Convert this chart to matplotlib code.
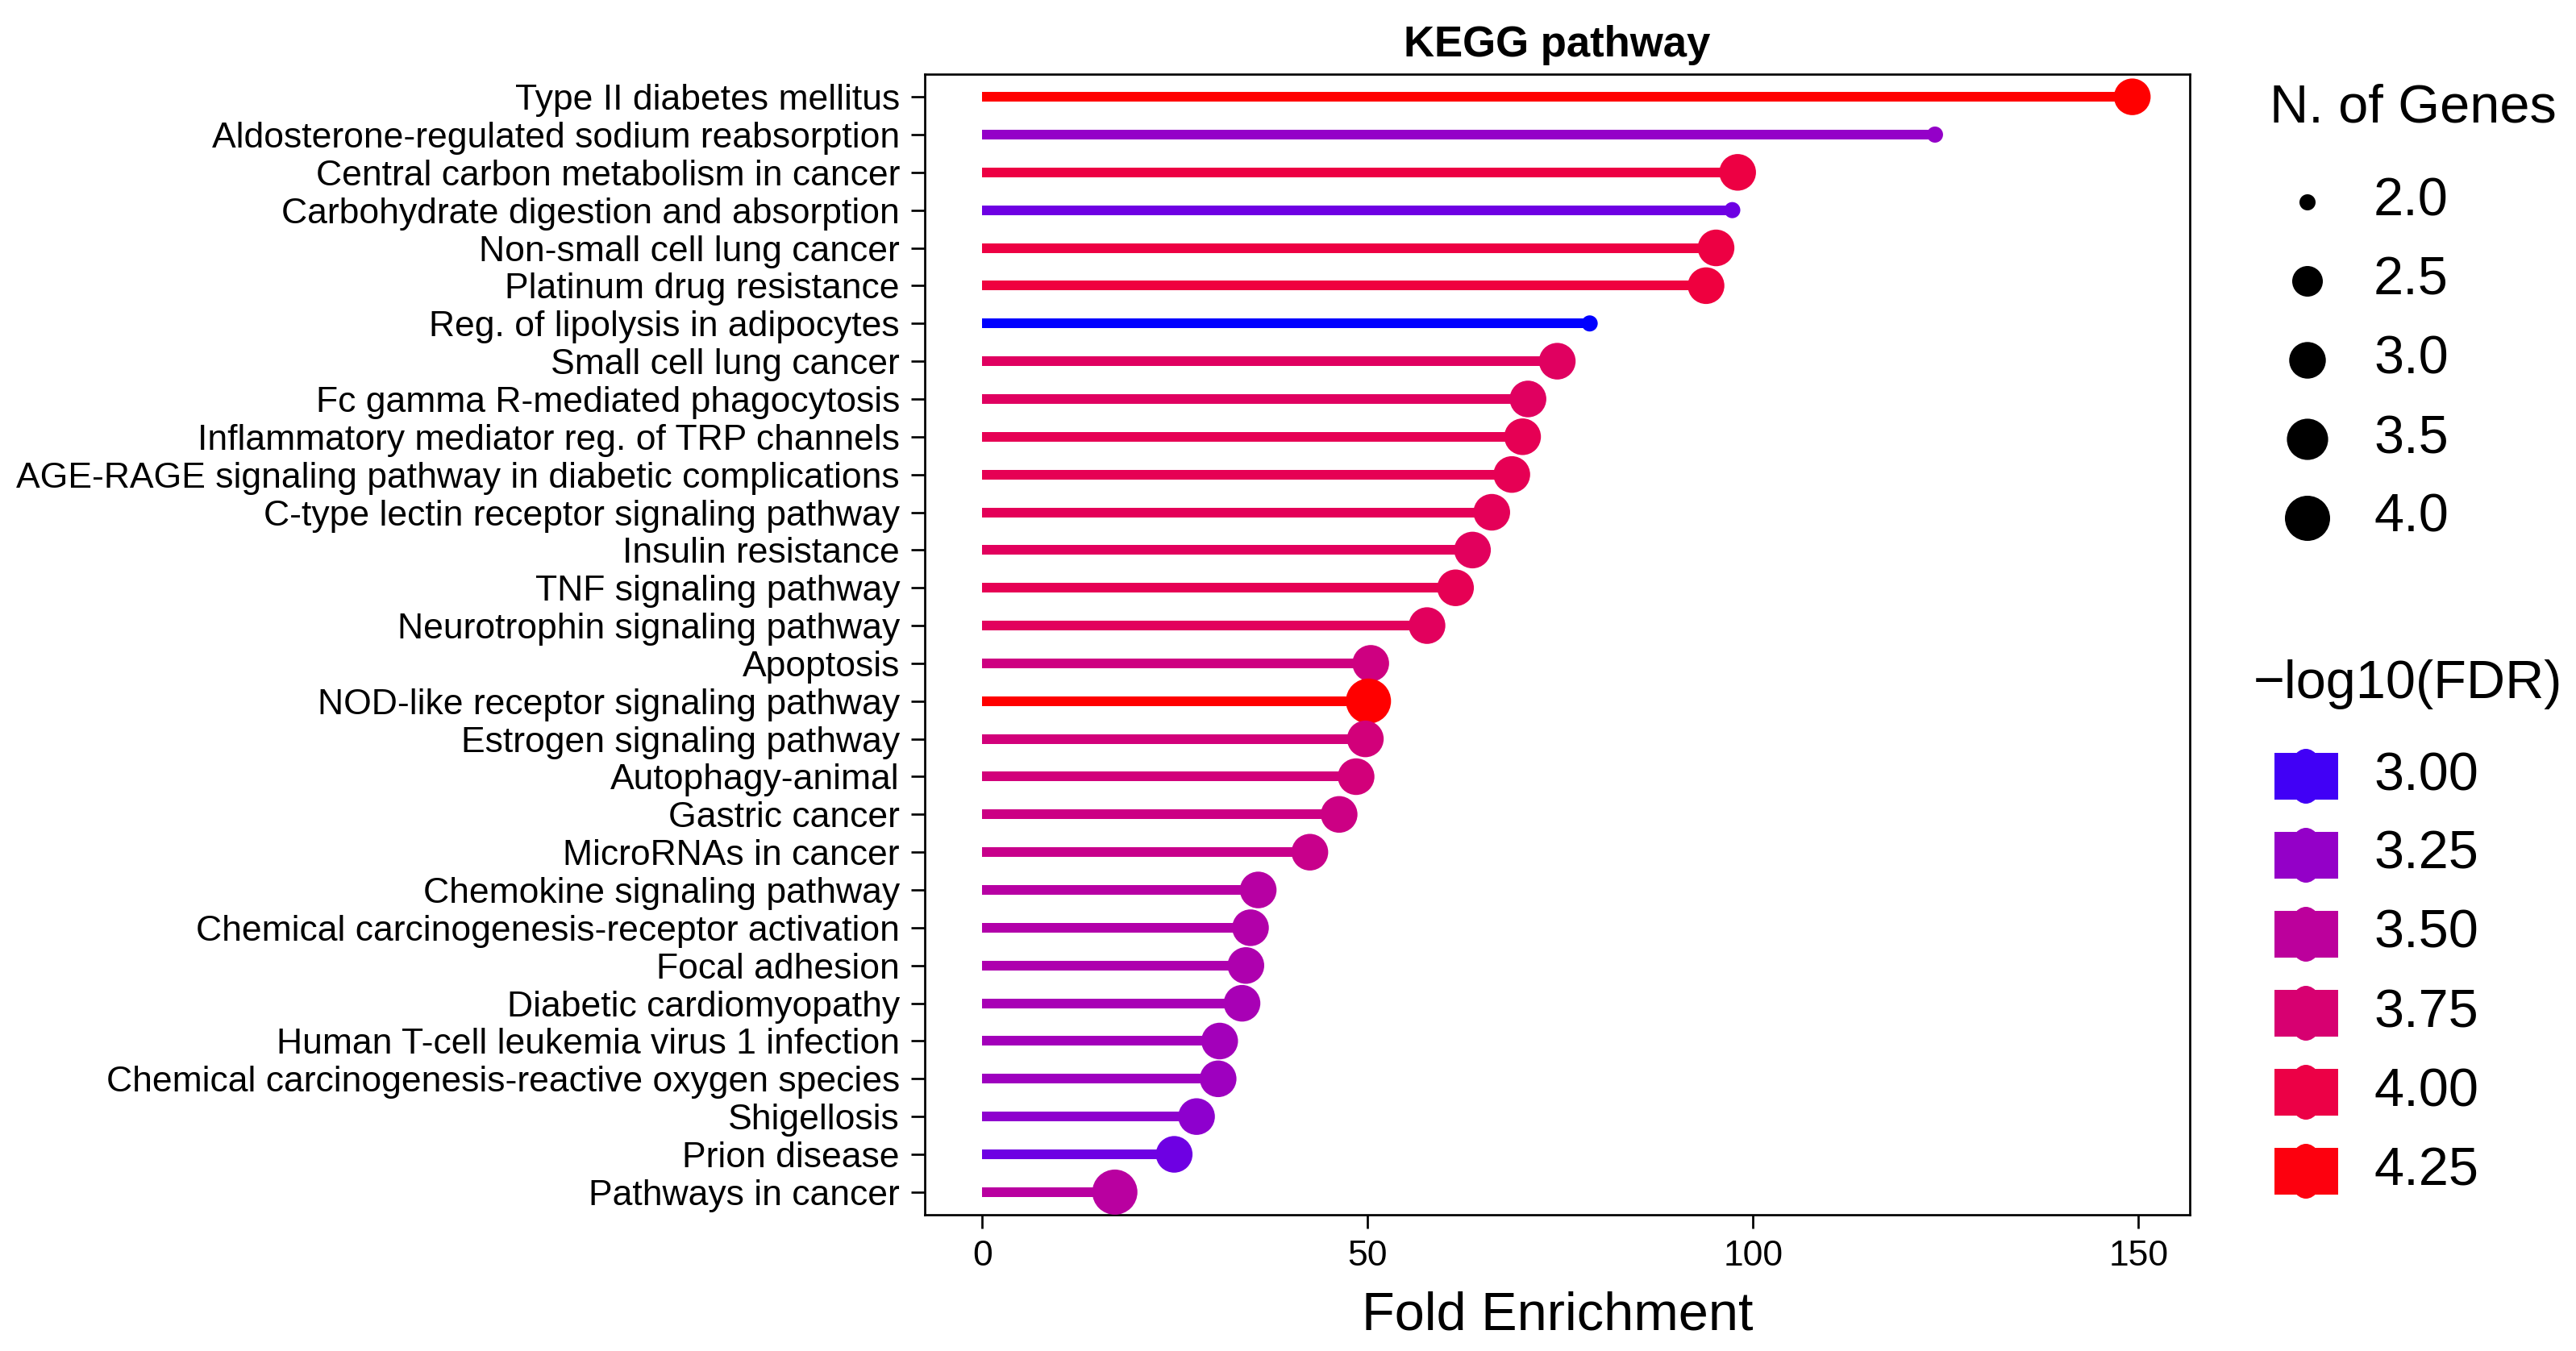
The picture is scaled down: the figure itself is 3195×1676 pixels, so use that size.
import numpy as np
import matplotlib
matplotlib.use("Agg")
import matplotlib.pyplot as plt
from matplotlib.patches import Rectangle, Ellipse

# ---------------- data ----------------
pathways = [
    "Type II diabetes mellitus",
    "Aldosterone-regulated sodium reabsorption",
    "Central carbon metabolism in cancer",
    "Carbohydrate digestion and absorption",
    "Non-small cell lung cancer",
    "Platinum drug resistance",
    "Reg. of lipolysis in adipocytes",
    "Small cell lung cancer",
    "Fc gamma R-mediated phagocytosis",
    "Inflammatory mediator reg. of TRP channels",
    "AGE-RAGE signaling pathway in diabetic complications",
    "C-type lectin receptor signaling pathway",
    "Insulin resistance",
    "TNF signaling pathway",
    "Neurotrophin signaling pathway",
    "Apoptosis",
    "NOD-like receptor signaling pathway",
    "Estrogen signaling pathway",
    "Autophagy-animal",
    "Gastric cancer",
    "MicroRNAs in cancer",
    "Chemokine signaling pathway",
    "Chemical carcinogenesis-receptor activation",
    "Focal adhesion",
    "Diabetic cardiomyopathy",
    "Human T-cell leukemia virus 1 infection",
    "Chemical carcinogenesis-reactive oxygen species",
    "Shigellosis",
    "Prion disease",
    "Pathways in cancer",
]
fold_enrichment = [149.2, 123.6, 98.0, 97.3, 95.2, 93.9, 78.8, 74.6, 70.8, 70.1,
                   68.7, 66.1, 63.6, 61.4, 57.7, 50.4, 50.1, 49.7, 48.5, 46.3,
                   42.5, 35.8, 34.8, 34.2, 33.7, 30.8, 30.6, 27.8, 24.9, 17.2]
n_genes = [3, 2, 3, 2, 3, 3, 2, 3, 3, 3,
           3, 3, 3, 3, 3, 3, 4, 3, 3, 3,
           3, 3, 3, 3, 3, 3, 3, 3, 3, 4]
neg_log10_fdr = [4.28, 3.25, 4.02, 3.10, 4.02, 4.04, 2.95, 3.85, 3.85, 3.92,
                 3.92, 3.90, 3.87, 3.92, 3.87, 3.66, 4.28, 3.70, 3.70, 3.64,
                 3.60, 3.46, 3.43, 3.40, 3.36, 3.33, 3.30, 3.22, 3.10, 3.48]
size_breaks = [2.0, 2.5, 3.0, 3.5, 4.0]
color_breaks = [3.00, 3.25, 3.50, 3.75, 4.00, 4.25]
title = "KEGG pathway"
xlabel = "Fold Enrichment"
x_ticks = [0, 50, 100, 150]

# ---------------- colour scale (blue -> red in Lab, like ggplot) ----------------
_M = np.array([[0.4124564, 0.3575761, 0.1804375],
               [0.2126729, 0.7151522, 0.0721750],
               [0.0193339, 0.1191920, 0.9503041]])
_W = _M @ np.ones(3)
_d = 6 / 29


def _lin(c):
    c = np.asarray(c, float)
    return np.where(c <= 0.04045, c / 12.92, ((c + 0.055) / 1.055) ** 2.4)


def _gam(c):
    c = np.clip(c, 0, 1)
    return np.where(c <= 0.0031308, 12.92 * c, 1.055 * np.power(c, 1 / 2.4) - 0.055)


def _f(t):
    return np.where(t > _d ** 3, np.cbrt(t), t / (3 * _d * _d) + 4 / 29)


def _finv(t):
    return np.where(t > _d, t ** 3, 3 * _d * _d * (t - 4 / 29))


def rgb2lab(rgb):
    xyz = (_M @ _lin(rgb)) / _W
    fx, fy, fz = _f(xyz)
    return np.array([116 * fy - 16, 500 * (fx - fy), 200 * (fy - fz)])


def lab2rgb(lab):
    L, a, b = lab
    fy = (L + 16) / 116
    fx = fy + a / 500
    fz = fy - b / 200
    xyz = _W * _finv(np.array([fx, fy, fz]))
    return tuple(_gam(np.linalg.solve(_M, xyz)))


LAB_LOW = rgb2lab([0, 0, 1])
LAB_HIGH = rgb2lab([1, 0, 0])
vmin, vmax = min(neg_log10_fdr), max(neg_log10_fdr)


def colour(v):
    t = np.clip((v - vmin) / (vmax - vmin), 0, 1)
    return lab2rgb(LAB_LOW + t * (LAB_HIGH - LAB_LOW))


def diam_px(n):
    # area-type size scale
    return 20 + 36 * np.sqrt((n - 2.0) / 2.0)


# ---------------- figure ----------------
W, H, DPI = 3195, 1676, 200
plt.rcParams["font.family"] = ["Liberation Sans", "DejaVu Sans"]
fig = plt.figure(figsize=(W / DPI, H / DPI), dpi=DPI)
px2pt = 72 / DPI

ax_l, ax_r, ax_t, ax_b = 1147, 2716, 92, 1507
ax = fig.add_axes([ax_l / W, 1 - ax_b / H, (ax_r - ax_l) / W, (ax_b - ax_t) / H])

y = np.arange(len(pathways))
cols = [colour(v) for v in neg_log10_fdr]
ax.hlines(y, 0, fold_enrichment, colors=cols, linewidth=12 * px2pt, capstyle="butt", zorder=2)
sizes = [(diam_px(n) * px2pt) ** 2 for n in n_genes]
ax.scatter(fold_enrichment, y, s=sizes, c=cols, linewidths=0, zorder=3)

xmax = max(fold_enrichment)
ax.set_xlim(-0.05 * xmax, 1.05 * xmax)
ax.set_ylim(len(pathways) - 0.4, -0.6)
ax.set_yticks(y, pathways, fontsize=16)
ax.set_xticks(x_ticks, [str(t) for t in x_ticks], fontsize=16)
ax.tick_params(axis="both", length=17 * px2pt, width=2.7 * px2pt, color="black", pad=14 * px2pt)
for sp in ax.spines.values():
    sp.set_linewidth(2.7 * px2pt)
    sp.set_color("black")
ax.set_xlabel(xlabel, fontsize=24, labelpad=8)
ax.set_title(title, fontsize=19, fontweight="bold", pad=8)

# ---------------- legends (drawn manually, ggplot style) ----------------
def fx(px):
    return px / W


def fy(py):
    return 1 - py / H


# size legend
fig.text(fx(2815), fy(135), "N. of Genes", fontsize=24, va="center", ha="left")
for i, b in enumerate(size_breaks):
    yc = 251 + i * 98
    d = diam_px(b)
    fig.add_artist(Ellipse((fx(2862), fy(yc)), d / W, d / H, transform=fig.transFigure,
                           facecolor="black", edgecolor="none"))
    fig.text(fx(2944), fy(yc), f"{b:.1f}", fontsize=24, va="center", ha="left")

# colour legend
fig.text(fx(2795), fy(849), "\u2212log10(FDR)", fontsize=24, va="center", ha="left")
for i, b in enumerate(color_breaks):
    yc = 963 + i * 98
    c = colour(b)
    fig.add_artist(Rectangle((fx(2821), fy(yc + 29)), 79 / W, 58 / H, transform=fig.transFigure,
                             facecolor=c, edgecolor="none"))
    fig.add_artist(Ellipse((fx(2860), fy(yc)), 44 / W, 68 / H, transform=fig.transFigure,
                           facecolor=c, edgecolor="none"))
    fig.text(fx(2944), fy(yc), f"{b:.2f}", fontsize=24, va="center", ha="left")

fig.savefig("out.png", dpi=DPI)
